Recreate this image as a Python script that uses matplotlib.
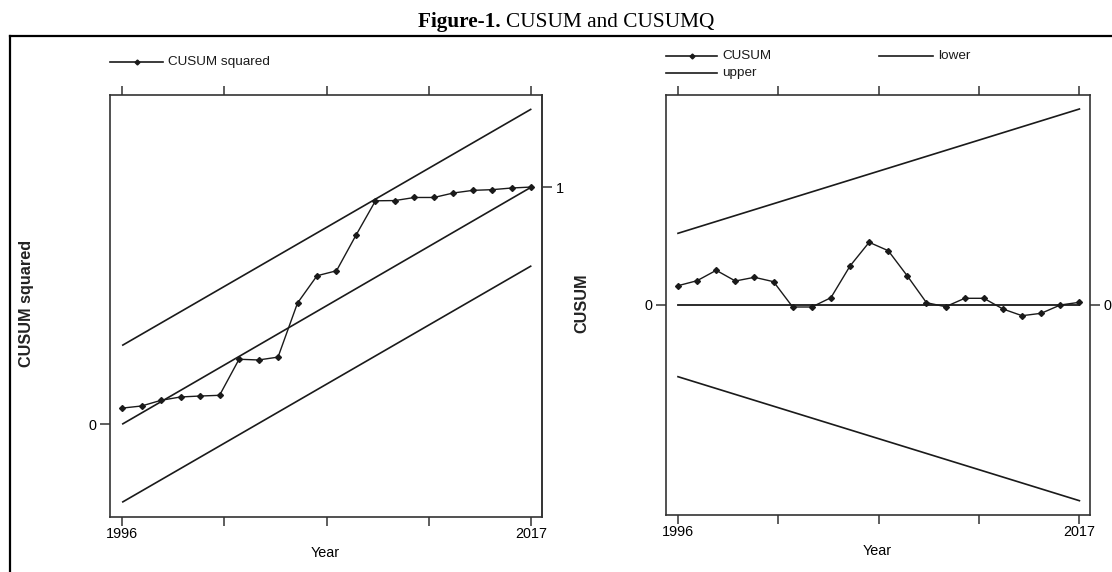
import matplotlib
matplotlib.use("Agg")
import matplotlib.pyplot as plt
from matplotlib import font_manager
from matplotlib.lines import Line2D

# ---------------- data ----------------
years = list(range(1996, 2018))
cusumsq = [0.068, 0.077, 0.101, 0.115, 0.119, 0.122, 0.274, 0.271, 0.283, 0.511,
           0.626, 0.647, 0.797, 0.942, 0.943, 0.956, 0.956, 0.975, 0.986, 0.989,
           0.996, 1.000]
band_years = [1996, 2017]
sq_mid = [0.0, 1.0]
sq_upper = [0.332, 1.329]
sq_lower = [-0.329, 0.668]

cusum = [1.90, 2.40, 3.44, 2.37, 2.74, 2.30, -0.23, -0.23, 0.70, 3.87,
         6.24, 5.40, 2.87, 0.20, -0.20, 0.64, 0.64, -0.43, -1.10, -0.86,
         -0.03, 0.24]
cusum_upper = [7.14, 19.57]
cusum_lower = [-7.20, -19.60]
zero_line = [0.0, 0.0]

xticks = [1996, 2001.25, 2006.5, 2011.75, 2017]
xticklabels = ["1996", "", "", "", "2017"]

title_bold = "Figure-1."
title_rest = "CUSUM and CUSUMQ"

# ---------------- layout helpers ----------------
W, H = 1112, 572
fig = plt.figure(figsize=(W / 100, H / 100), dpi=100)
fig.patch.set_facecolor("white")
renderer = fig.canvas.get_renderer()

def fx(x):
    return x / W

def fy(y):
    return 1 - y / H

names = {f.name for f in font_manager.fontManager.ttflist}
NARROW = "Liberation Sans Narrow" if "Liberation Sans Narrow" in names else "Liberation Sans"
SANS = "Liberation Sans"
SERIF = "Liberation Serif"

def text_width(s, size, **kw):
    t = fig.text(0, 0, s, fontsize=size, **kw)
    w = t.get_window_extent(renderer).width
    t.remove()
    return w

def fit(s, target, **kw):
    return 10 * target / text_width(s, 10, **kw)

tick_fs = fit("2017", 32, family=NARROW)
leg_fs = fit("CUSUM squared", 102, family=NARROW)
ylab_fs = fit("CUSUM squared", 128, family=SANS, weight="bold")

INK = "#1a1a1a"
FRAME = "#333333"

# ---------------- axes ----------------
ax1 = fig.add_axes([fx(110), fy(517), 432 / W, 422 / H])
ax2 = fig.add_axes([fx(666), fy(515), 424 / W, 419.5 / H])

# left panel: CUSUM squared
ax1.plot(band_years, sq_upper, color=INK, lw=1.2, solid_capstyle="butt")
ax1.plot(band_years, sq_mid, color=INK, lw=1.2, solid_capstyle="butt")
ax1.plot(band_years, sq_lower, color=INK, lw=1.2, solid_capstyle="butt")
ax1.plot(years, cusumsq, color=INK, lw=1.0, marker="D", ms=3, mfc=INK, mec=INK)
ax1.set_xlim(1995.379, 2017.544)
ax1.set_ylim(-0.391, 1.388)
ax1.set_yticks([0])
ax1.set_yticklabels(["0"])
sec = ax1.secondary_yaxis("right")
sec.set_yticks([1])
sec.set_yticklabels(["1"])

# right panel: CUSUM
ax2.plot(band_years, zero_line, color=INK, lw=1.3)
ax2.plot(band_years, cusum_upper, color=INK, lw=1.2)
ax2.plot(band_years, cusum_lower, color=INK, lw=1.2)
ax2.plot(years, cusum, color=INK, lw=1.0, marker="D", ms=3, mfc=INK, mec=INK)
ax2.set_xlim(1995.373, 2017.554)
ax2.set_ylim(-21.03, 20.92)
ax2.set_yticks([0])
ax2.set_yticklabels(["0"])
ax2.tick_params(axis="y", right=True, labelright=True)

for ax in (ax1, ax2):
    ax.set_xticks(xticks)
    ax.set_xticklabels(xticklabels)
    ax.tick_params(axis="x", direction="out", length=6.5, width=1.1, top=True,
                   labeltop=False, pad=0.5, color=FRAME, labelsize=tick_fs)
    ax.tick_params(axis="y", direction="out", length=7, width=1.1, pad=3,
                   color=FRAME, labelsize=tick_fs)
    for sp in ax.spines.values():
        sp.set_linewidth(1.2)
        sp.set_color(FRAME)
    for lab in ax.get_xticklabels() + ax.get_yticklabels():
        lab.set_family(NARROW)
sec.tick_params(axis="y", direction="out", length=7, width=1.1, pad=3,
                color=FRAME, labelsize=tick_fs)
sec.spines["right"].set_linewidth(1.2)
sec.spines["right"].set_color(FRAME)
for lab in sec.get_yticklabels():
    lab.set_family(NARROW)

# axis titles
ax1.set_xlabel("Year", family=NARROW, fontsize=tick_fs, va="center")
ax1.xaxis.set_label_coords((325.7 - 110) / 432, (517 - 553) / 422)
ax2.set_xlabel("Year", family=NARROW, fontsize=tick_fs, va="center")
ax2.xaxis.set_label_coords((877 - 666) / 424, (515 - 551) / 419.5)

ax1.set_ylabel("CUSUM squared", family=SANS, weight="bold", fontsize=ylab_fs,
               va="center", ha="center", color="#222222")
ax1.yaxis.set_label_coords((27 - 110) / 432, (517 - 303.5) / 422)
ax2.set_ylabel("CUSUM", family=SANS, weight="bold", fontsize=ylab_fs,
               va="center", ha="center", color="#222222")
ax2.yaxis.set_label_coords((582 - 666) / 424, (515 - 303.5) / 419.5)

# ---------------- legends (drawn on the figure) ----------------
def legend_entry(x0, x1, y, label, marker=False):
    fig.add_artist(Line2D([fx(x0), fx(x1)], [fy(y), fy(y)], transform=fig.transFigure,
                          color=INK, lw=1.2))
    if marker:
        fig.add_artist(Line2D([fx((x0 + x1) / 2)], [fy(y)], transform=fig.transFigure,
                              color=INK, marker="D", ms=2.5, lw=0))
    fig.text(fx(x1 + 5), fy(y), label, family=NARROW, fontsize=leg_fs,
             ha="left", va="center", color=INK)

legend_entry(110, 163, 62, "CUSUM squared", marker=True)
legend_entry(666, 717, 56, "CUSUM", marker=True)
legend_entry(879, 933, 56, "lower")
legend_entry(666, 717, 73, "upper")

# ---------------- outer frame ----------------
fig.add_artist(Line2D([fx(10), 1.0], [fy(36), fy(36)], transform=fig.transFigure,
                      color="black", lw=1.6))
fig.add_artist(Line2D([fx(10), fx(10)], [fy(36), 0.0], transform=fig.transFigure,
                      color="black", lw=1.6))

# ---------------- title ----------------
wb = text_width(title_bold + " ", 10, family=SERIF, weight="bold")
wr = text_width(title_rest, 10, family=SERIF)
title_fs = 10 * 297 / (wb + wr)
x_start = 418
fig.text(fx(x_start), fy(22), title_bold + " ", family=SERIF, weight="bold",
         fontsize=title_fs, ha="left", va="center")
fig.text(fx(x_start + wb * title_fs / 10), fy(22), title_rest, family=SERIF,
         fontsize=title_fs, ha="left", va="center")

fig.savefig("out.png", dpi=100)
